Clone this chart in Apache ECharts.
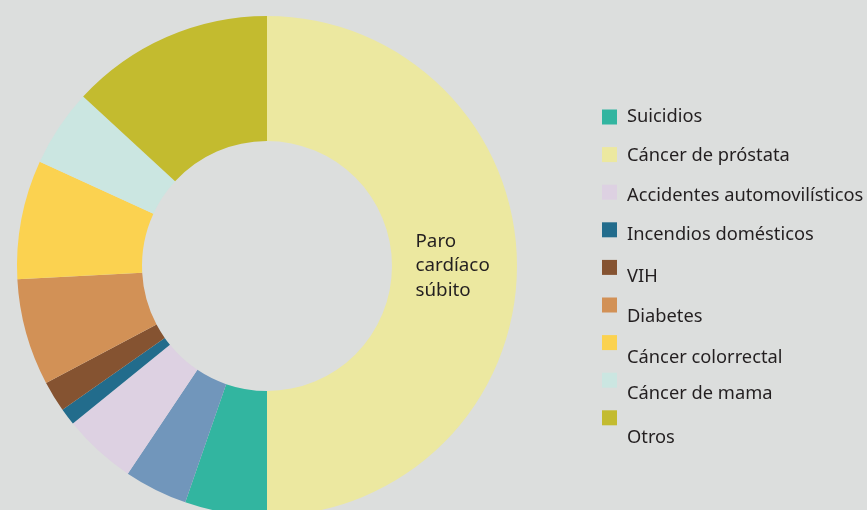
<!DOCTYPE html>
<html>
<head>
<meta charset="utf-8">
<script src="https://cdn.jsdelivr.net/npm/echarts@6/dist/echarts.min.js"></script>
<style>
html,body{margin:0;padding:0;background:#dcdedd;}
#chart{width:867px;height:510px;}
</style>
</head>
<body>
<div id="chart"></div>
<script>
// Slices in drawing order (clockwise from the top)
const sliceNames = ['Paro cardíaco súbito','Suicidios','Cáncer de próstata','Accidentes automovilísticos','Incendios domésticos','VIH','Diabetes','Cáncer colorrectal','Cáncer de mama','Otros'];
const sliceValues = [50, 5.3, 4.1, 4.75, 1.1, 2.0, 6.9, 7.7, 5.0, 13.15];
const sliceColors = ['#ece8a0','#32b5a0','#7196bb','#ddd1e2','#226c8c','#855331','#d29156','#fbd250','#cbe6e1','#c3bb2f'];
// Legend entries as printed in the original (colour swatches as shown)
const legendNames = ['Suicidios','Cáncer de próstata','Accidentes automovilísticos','Incendios domésticos','VIH','Diabetes','Cáncer colorrectal','Cáncer de mama','Otros'];
const legendColors = ['#32b5a0','#ece8a0','#ddd1e2','#226c8c','#855331','#d29156','#fbd250','#cbe6e1','#c3bb2f'];
const centerLabelLines = ['Paro','cardíaco','súbito'];

// layout: text drift below each swatch in the original
const legendTextShift = [0, 1.5, 3.7, 4.7, 9.3, 11.7, 14.7, 14, 20];

const textColor = '#231f20';
const font = 'Noto Sans';

const legends = legendNames.map((n, i) => {
  const s = legendTextShift[i];
  return {
    orient: 'vertical',
    left: 602,
    top: 108 + i * 37.6 - s,
    padding: 0,
    icon: 'rect',
    itemWidth: 15,
    itemHeight: 15,
    selectedMode: false,
    formatter: name => '{t|' + name + '}',
    textStyle: {
      rich: {
        t: {
          fontFamily: font,
          fontSize: 18.3,
          color: textColor,
          lineHeight: 15,
          padding: [2 * s, 0, 0, 5]
        }
      }
    },
    data: [{ name: n, itemStyle: { color: legendColors[i] } }]
  };
});

const chart = echarts.init(document.getElementById('chart'));
chart.setOption({
  backgroundColor: '#dcdedd',
  animation: false,
  legend: legends,
  series: [{
    type: 'pie',
    center: [267, 266],
    radius: [125, 250],
    startAngle: 90,
    clockwise: true,
    avoidLabelOverlap: false,
    silent: true,
    label: { show: false },
    labelLine: { show: false },
    data: sliceNames.map((n, i) => ({
      name: n,
      value: sliceValues[i],
      itemStyle: { color: sliceColors[i] },
      label: i === 0 ? {
        show: true,
        position: 'inside',
        offset: [-5, 0],
        formatter: centerLabelLines.map(t => '{a|' + t + '}').join('\n'),
        rich: {
          a: { fontFamily: font, fontSize: 18.8, color: textColor, width: 74, align: 'left', lineHeight: 24.5 }
        }
      } : { show: false }
    }))
  }]
});
</script>
</body>
</html>
